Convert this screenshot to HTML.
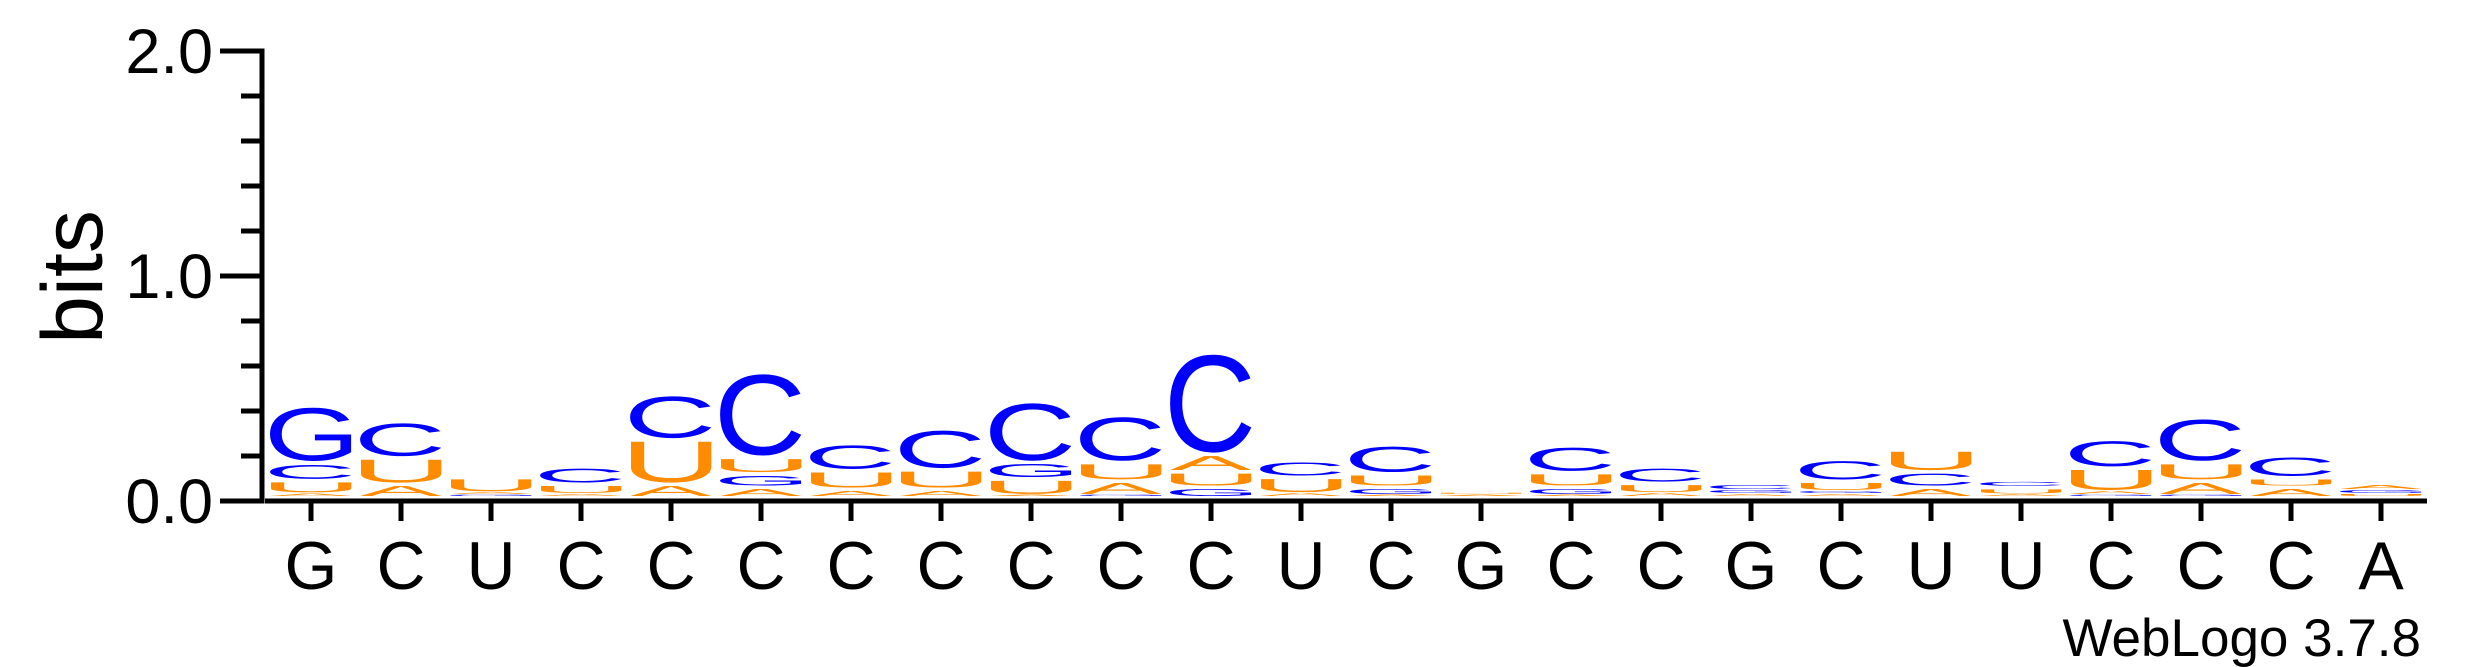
<!DOCTYPE html>
<html><head><meta charset="utf-8">
<style>
html,body{margin:0;padding:0;background:#fff;}
svg{display:block;}
text{font-family:"Liberation Sans",Arial,sans-serif;}
</style></head>
<body>
<svg id="logo" width="2475" height="667" viewBox="0 0 2475 667" xmlns="http://www.w3.org/2000/svg">
  <g id="yaxis"></g>
  <g id="xaxis"></g>
  <g id="stacks"></g>
  <text x="0" y="0" font-size="86" text-anchor="middle" transform="translate(102,277) rotate(-90)">bits</text>
  <text x="2421" y="656" font-size="53" text-anchor="end">WebLogo 3.7.8</text>
</svg>
<script>
// Data
const positions = ["G","C","U","C","C","C","C","C","C","C","C","U","C","G","C","C","G","C","U","U","C","C","C","A"];
const stackLetters = [
 ["A","U","C","G"],["A","U","C"],["G","A","U"],["A","U","C"],["A","U","C"],["A","G","U","C"],
 ["A","U","C"],["A","U","C"],["A","U","G","C"],["G","A","U","C"],["G","U","A","C"],["A","U","C"],
 ["A","G","U","C"],["A","U"],["A","G","U","C"],["A","U","C"],["A","G","C"],["A","G","U","C"],
 ["A","C","U"],["A","U","C"],["G","A","U","C"],["G","A","U","C"],["A","U","C"],["U","G","A"]
];
const stackBits = [
 [0.012,0.044,0.062,0.236],[0.044,0.102,0.146],[0.005,0.007,0.053],[0.009,0.031,0.062],[0.044,0.182,0.186],[0.031,0.044,0.058,0.362],
 [0.022,0.067,0.105],[0.022,0.071,0.167],[0.005,0.058,0.058,0.256],[0.005,0.049,0.067,0.194],[0.031,0.053,0.062,0.436],[0.013,0.058,0.058],
 [0.005,0.022,0.044,0.113],[0.005,0.005],[0.005,0.022,0.049,0.104],[0.013,0.031,0.058],[0.009,0.013,0.018],[0.009,0.009,0.031,0.082],
 [0.031,0.053,0.082],[0.007,0.018,0.018],[0.005,0.013,0.089,0.113],[0.005,0.049,0.067,0.184],[0.031,0.027,0.082],[0.009,0.013,0.018]
];
const yTicks = [0,0.2,0.4,0.6,0.8,1.0,1.2,1.4,1.6,1.8,2.0];
const yTickLabels = ["0.0","1.0","2.0"];

// Scales
const NS="http://www.w3.org/2000/svg";
const baseY=501, bitPx=225, x0=311, colStep=90, letterW=82, axisX=262, gap=3.5;
const yScale = b => baseY - b*bitPx;
const xScale = i => x0 + i*colStep;
const colors = {A:"#ff8c00",U:"#ff8c00",C:"#0000ff",G:"#0000ff"};

// glyph ink metrics
const cv=document.createElement('canvas').getContext('2d');
cv.font='100px "Liberation Sans", Arial, sans-serif';
const metrics={};
["A","C","G","U"].forEach(L=>{
  const m=cv.measureText(L);
  let asc=m.actualBoundingBoxAscent, desc=m.actualBoundingBoxDescent,
      left=m.actualBoundingBoxLeft, right=m.actualBoundingBoxRight;
  if(!(asc>0)){asc=(L==="C"||L==="G")?73.5:71.6; desc=(L==="C"||L==="G")?1.3:0; left=-5; right=(L==="A")?66:67;}
  metrics[L]={asc,desc,left,right};
});

function mk(tag, attrs, parent){
  const el=document.createElementNS(NS,tag);
  for(const k in attrs) el.setAttribute(k,attrs[k]);
  parent.appendChild(el); return el;
}

// Y axis
const ya=document.getElementById('yaxis');
const yl=mk('line',{x1:axisX,y1:yScale(2)-2.5,x2:axisX,y2:baseY+2.5,stroke:"#000","stroke-width":5},ya);


yTicks.forEach((t)=>{
  const major = Math.abs(t-Math.round(t))<1e-9;
  const tk=mk('line',{x1:major?220:241,x2:axisX,y1:yScale(t),y2:yScale(t),stroke:"#000","stroke-width":5},ya);
  
  
});
yTickLabels.forEach(l=>{
  const v=parseFloat(l);
  const tx=mk('text',{x:213,y:yScale(v)+22,"font-size":63,"text-anchor":"end"},ya);
  tx.textContent=l;
  
  
});

// X axis
const xa=document.getElementById('xaxis');
const xl=mk('line',{x1:265,x2:2427,y1:baseY,y2:baseY,stroke:"#000","stroke-width":5},xa);


positions.forEach((p,i)=>{
  const tk=mk('line',{x1:xScale(i),x2:xScale(i),y1:baseY,y2:521,stroke:"#000","stroke-width":5},xa);
  
  
  const tx=mk('text',{x:xScale(i),y:589,"font-size":68,"text-anchor":"middle"},xa);
  tx.textContent=p;
  
  
});

// Stacks
const st=document.getElementById('stacks');
stackLetters.forEach((letters,i)=>{
  let y=baseY-5;
  const g=mk('g',{},st);
  
  
  letters.forEach((L,j)=>{
    const h=stackBits[i][j]*bitPx;
    if(h<=0) return;
    const m=metrics[L];
    const inkH=m.asc+m.desc, inkW=m.left+m.right;
    const sy=h/inkH, sx=letterW/inkW;
    const t=mk('text',{x:m.left,y:-m.desc,"font-size":100,fill:colors[L],
      transform:`translate(${xScale(i)-letterW/2},${y}) scale(${sx},${sy})`},g);
    t.textContent=L;
    
    
    y-=h+(h>3?gap:1);
  });
});
</script>
</body></html>
